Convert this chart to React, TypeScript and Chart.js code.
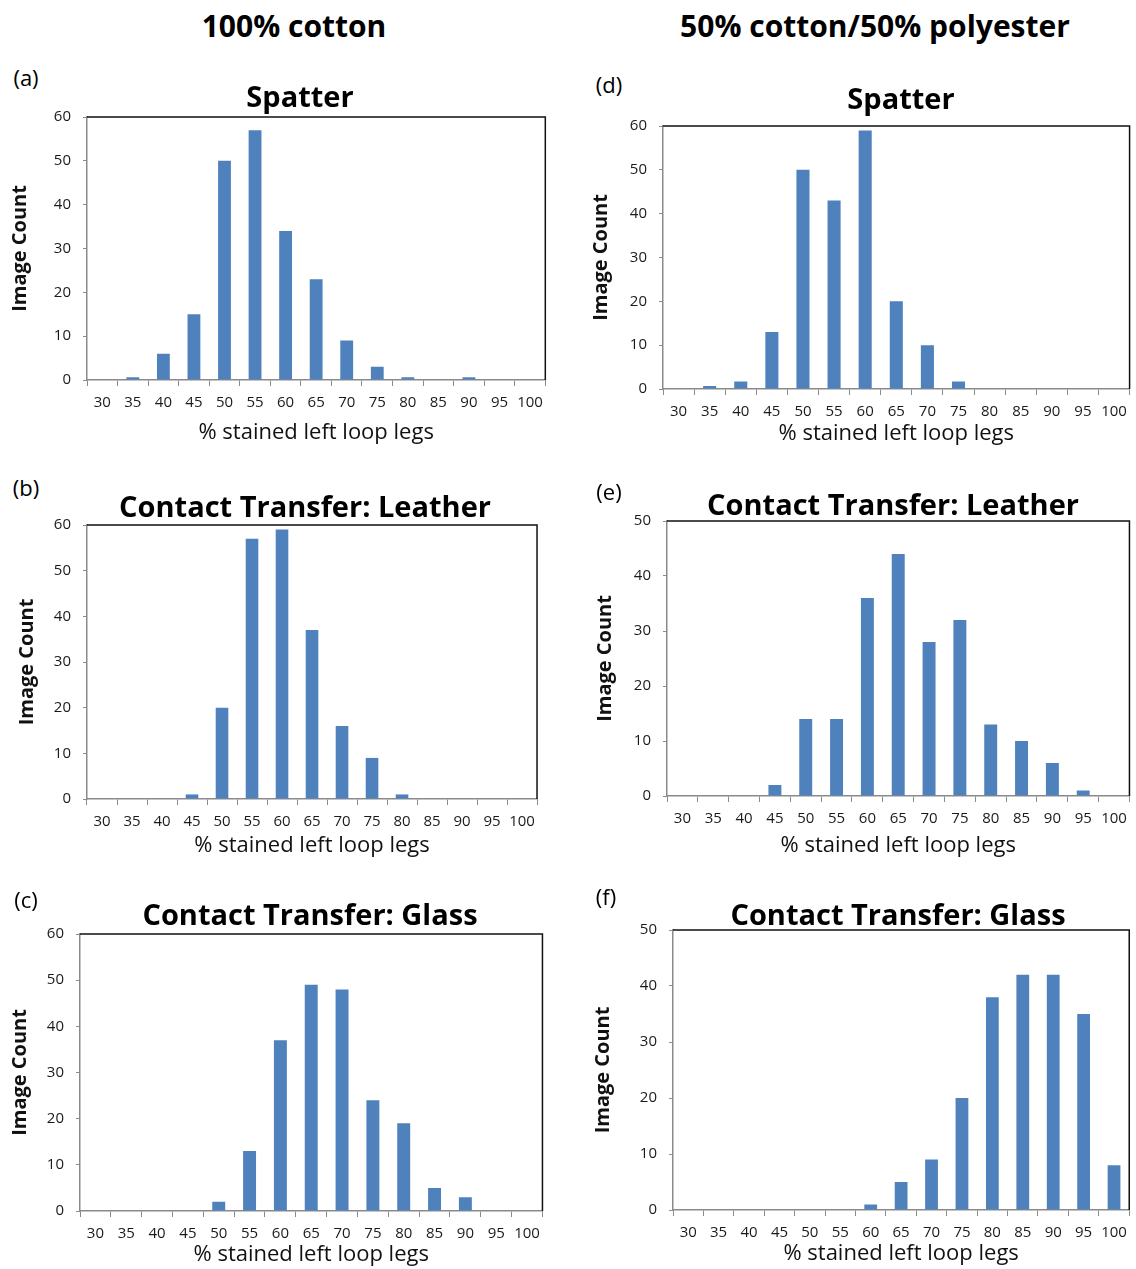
import React, { useEffect, useRef } from 'react';
import { Chart, registerables } from 'chart.js';

Chart.register(...registerables);

// ---- data ----
const categories = ['30', '35', '40', '45', '50', '55', '60', '65', '70', '75', '80', '85', '90', '95', '100'];

const spatterCotton = [0, 0.6, 6, 15, 50, 57, 34, 23, 9, 3, 0.6, 0, 0.6, 0, 0];
const leatherCotton = [0, 0, 0, 1, 20, 57, 59, 37, 16, 9, 1, 0, 0, 0, 0];
const glassCotton = [0, 0, 0, 0, 2, 13, 37, 49, 48, 24, 19, 5, 3, 0, 0];

const spatterBlend = [0, 0.7, 1.7, 13, 50, 43, 59, 20, 10, 1.7, 0, 0, 0, 0, 0];
const leatherBlend = [0, 0, 0, 2, 14, 14, 36, 44, 28, 32, 13, 10, 6, 1, 0];
const glassBlend = [0, 0, 0, 0, 0, 0, 1, 5, 9, 20, 38, 42, 42, 35, 8];

const columnHeaders = ['100% cotton', '50% cotton/50% polyester'];
const panelTitles = ['Spatter', 'Contact Transfer: Leather', 'Contact Transfer: Glass'];
const panelLetters = ['(a)', '(b)', '(c)', '(d)', '(e)', '(f)'];
const yAxisTitle = 'Image Count';
const xAxisTitle = '% stained left loop legs';

const FONT = '"Open Sans", Lato, "DejaVu Sans", sans-serif';
const BAR_COLOR = '#4F81BD';

type PanelCfg = {
  letter: string;
  title: string;
  data: number[];
  yMax: number;
  L: number; T: number; R: number; B: number;
  canvasLeft: number;
  letterX: number; letterY: number;
  titleX: number; titleY: number;
  xTitleOff: number;
};

const panels: PanelCfg[] = [
  { letter: panelLetters[0], title: panelTitles[0], data: spatterCotton, yMax: 60, L: 87, T: 116, R: 548, B: 380, canvasLeft: 0, letterX: 26, letterY: 77, titleX: 300, titleY: 95, xTitleOff: 55 },
  { letter: panelLetters[1], title: panelTitles[1], data: leatherCotton, yMax: 60, L: 87, T: 524, R: 540, B: 799, canvasLeft: 7, letterX: 26, letterY: 487, titleX: 305, titleY: 505, xTitleOff: 49 },
  { letter: panelLetters[2], title: panelTitles[2], data: glassCotton, yMax: 60, L: 80, T: 933, R: 545, B: 1211, canvasLeft: 0, letterX: 26, letterY: 899, titleX: 310, titleY: 913, xTitleOff: 46 },
  { letter: panelLetters[3], title: panelTitles[0], data: spatterBlend, yMax: 60, L: 663, T: 125, R: 1132, B: 389, canvasLeft: 581, letterX: 609, letterY: 84, titleX: 901, titleY: 97, xTitleOff: 47 },
  { letter: panelLetters[4], title: panelTitles[1], data: leatherBlend, yMax: 50, L: 667, T: 520, R: 1132, B: 796, canvasLeft: 585, letterX: 609, letterY: 491, titleX: 893, titleY: 503, xTitleOff: 52 },
  { letter: panelLetters[5], title: panelTitles[2], data: glassBlend, yMax: 50, L: 673, T: 929, R: 1132, B: 1210, canvasLeft: 583, letterX: 606, letterY: 896, titleX: 898, titleY: 913, xTitleOff: 46 },
];

const framePlugin = {
  id: 'plotFrame',
  afterDraw(chart: any) {
    const { ctx, chartArea } = chart;
    const { left, top, right, bottom } = chartArea;
    ctx.save();
    ctx.strokeStyle = '#111';
    ctx.lineWidth = 1.5;
    ctx.beginPath();
    ctx.moveTo(left, top);
    ctx.lineTo(right, top);
    ctx.lineTo(right, bottom);
    ctx.stroke();
    ctx.restore();
  },
};

function Panel({ cfg }: { cfg: PanelCfg }) {
  const ref = useRef<HTMLCanvasElement>(null);
  const topGap = 20;
  const padRight = 3;
  const yW = cfg.L - cfg.canvasLeft;
  const xH = cfg.xTitleOff + 15;
  const width = cfg.R + padRight - cfg.canvasLeft;
  const canvasTop = cfg.T - topGap;
  const height = cfg.B + xH - canvasTop;

  useEffect(() => {
    const canvas = ref.current;
    if (!canvas) return;
    const chart = new Chart(canvas, {
      type: 'bar',
      data: {
        labels: categories,
        datasets: [
          {
            label: cfg.title,
            data: cfg.data,
            backgroundColor: BAR_COLOR,
            borderWidth: 0,
            barPercentage: 0.42,
            categoryPercentage: 1,
          },
        ],
      },
      options: {
        responsive: false,
        animation: false,
        devicePixelRatio: 1,
        layout: { padding: { top: 0, right: padRight, left: 0, bottom: 0 } },
        plugins: {
          legend: { display: false },
          tooltip: { enabled: false },
          title: { display: false },
        },
        scales: {
          x: {
            afterFit: (s: any) => { s.height = xH; },
            grid: {
              display: true,
              drawOnChartArea: false,
              drawTicks: true,
              tickLength: 6,
              color: '#8a8a8a',
              offset: true,
            },
            border: { display: true, color: '#8a8a8a', width: 1.5 },
            ticks: {
              color: '#1a1a1a',
              font: { family: FONT, size: 15 },
              padding: 8,
              maxRotation: 0,
              autoSkip: false,
            },
            title: {
              display: true,
              text: xAxisTitle,
              color: '#111',
              font: { family: FONT, size: 22 },
              padding: { top: 0, bottom: 4 },
            },
          },
          y: {
            min: 0,
            max: cfg.yMax,
            afterFit: (s: any) => { s.width = yW; },
            grid: {
              display: true,
              drawOnChartArea: false,
              drawTicks: true,
              tickLength: 4,
              color: '#8a8a8a',
            },
            border: { display: true, color: '#8a8a8a', width: 1.5 },
            ticks: {
              stepSize: 10,
              color: '#1a1a1a',
              font: { family: FONT, size: 15 },
              padding: 12,
            },
            title: {
              display: true,
              text: yAxisTitle,
              color: '#111',
              font: { family: FONT, size: 20, weight: 'bold' },
              padding: { top: 8, bottom: 0 },
            },
          },
        },
      },
      plugins: [framePlugin],
    });
    return () => chart.destroy();
  }, []);

  return (
    <canvas
      ref={ref}
      width={width}
      height={height}
      style={{ position: 'absolute', left: cfg.canvasLeft, top: canvasTop, width, height }}
    />
  );
}

const textStyle = (x: number, y: number, size: number, bold: boolean): React.CSSProperties => ({
  position: 'absolute',
  left: x,
  top: y,
  transform: 'translate(-50%, -50%)',
  fontFamily: FONT,
  fontSize: size,
  fontWeight: bold ? 700 : 400,
  lineHeight: 1,
  whiteSpace: 'nowrap',
  color: '#000',
});

export default function App() {
  return (
    <div
      style={{
        position: 'absolute',
        left: 0,
        top: 0,
        width: 1136,
        height: 1269,
        background: '#fff',
        overflow: 'hidden',
      }}
    >
      {panels.map((p, i) => (
        <Panel key={i} cfg={p} />
      ))}
      <div style={textStyle(294, 26, 30, true)}>{columnHeaders[0]}</div>
      <div style={textStyle(875, 26, 30, true)}>{columnHeaders[1]}</div>
      {panels.map((p, i) => (
        <React.Fragment key={'t' + i}>
          <div style={textStyle(p.letterX, p.letterY, 22, false)}>{p.letter}</div>
          <div style={textStyle(p.titleX, p.titleY, 29, true)}>{p.title}</div>
        </React.Fragment>
      ))}
    </div>
  );
}
